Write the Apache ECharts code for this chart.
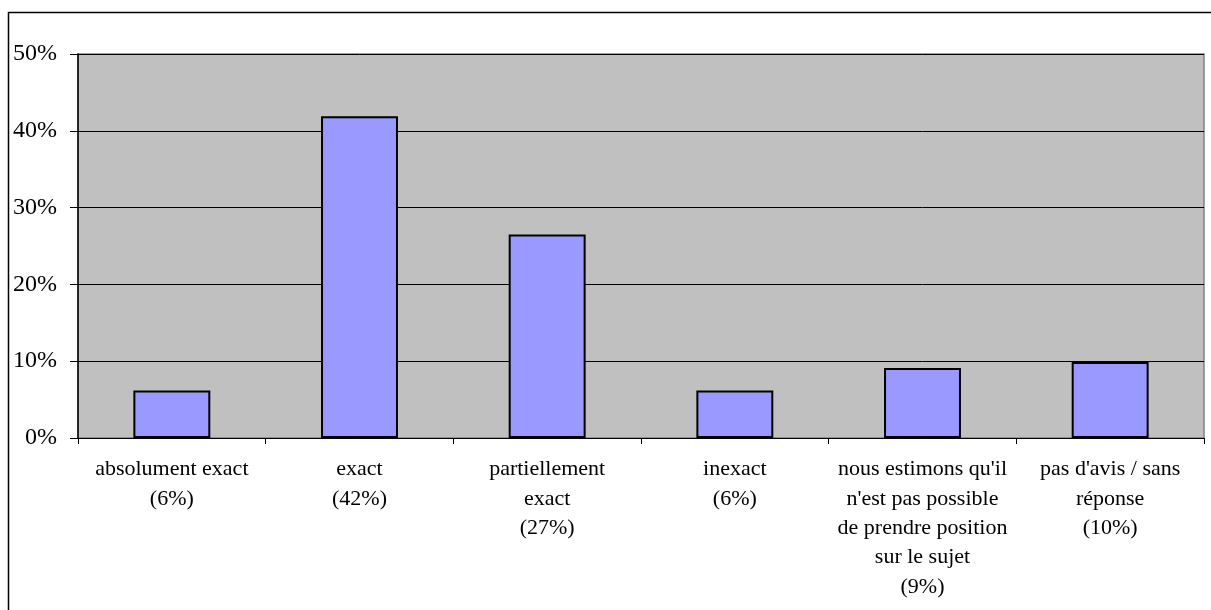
<!DOCTYPE html>
<html>
<head>
<meta charset="utf-8">
<script src="https://cdn.jsdelivr.net/npm/echarts@6/dist/echarts.min.js"></script>
<style>
  html, body { margin: 0; padding: 0; background: #ffffff; }
  #chart { width: 1211px; height: 610px; }
</style>
</head>
<body>
<div id="chart"></div>
<script>
// Survey answers: share of respondents per answer (percent)
const answerNames = [
  'absolument exact',
  'exact',
  'partiellement\nexact',
  'inexact',
  "nous estimons qu'il\nn'est pas possible\nde prendre position\nsur le sujet",
  "pas d'avis / sans\nréponse"
];
const answerShares = [6.2, 41.9, 26.5, 6.2, 9.1, 9.9];
const yTicks = [0, 10, 20, 30, 40, 50];

// Category labels carry the rounded share in brackets
const categories = answerNames.map((n, i) => n + '\n(' + Math.round(answerShares[i]) + '%)');

const chart = echarts.init(document.getElementById('chart'), null, { renderer: 'canvas' });
const serif = '"Liberation Serif", "Times New Roman", serif';

chart.setOption({
  animation: false,
  backgroundColor: '#ffffff',
  graphic: [{
    type: 'rect',
    shape: { x: 8.5, y: 12.5, width: 1400, height: 800 },
    style: { fill: 'none', stroke: '#000000', lineWidth: 1.5 },
    silent: true,
    z: -10
  }],
  grid: {
    left: 78, top: 54, right: 7, bottom: 172,
    show: true,
    backgroundColor: '#c0c0c0',
    borderColor: '#808080',
    borderWidth: 1.5
  },
  xAxis: {
    type: 'category',
    data: categories,
    boundaryGap: true,
    axisLine: { show: true, lineStyle: { color: '#000000', width: 1 } },
    axisTick: { show: true, length: 6, alignWithLabel: false, lineStyle: { color: '#000000' } },
    axisLabel: {
      interval: 0,
      margin: 17,
      color: '#000000',
      fontFamily: serif,
      fontSize: 22,
      lineHeight: 29.3,
      align: 'center'
    },
    splitLine: { show: false }
  },
  yAxis: {
    type: 'value',
    min: yTicks[0],
    max: yTicks[yTicks.length - 1],
    interval: 10,
    axisLine: { show: true, lineStyle: { color: '#000000', width: 1.5 } },
    axisTick: { show: true, length: 8, lineStyle: { color: '#000000' } },
    axisLabel: {
      margin: 21,
      color: '#000000',
      fontFamily: serif,
      fontSize: 24,
      formatter: v => v + '%'
    },
    splitLine: { show: true, lineStyle: { color: '#000000', width: 1 } }
  },
  series: [{
    type: 'bar',
    data: answerShares,
    barWidth: '41%',
    itemStyle: {
      color: '#9999ff',
      borderColor: '#000000',
      borderWidth: 2
    }
  }]
});
</script>
</body>
</html>
